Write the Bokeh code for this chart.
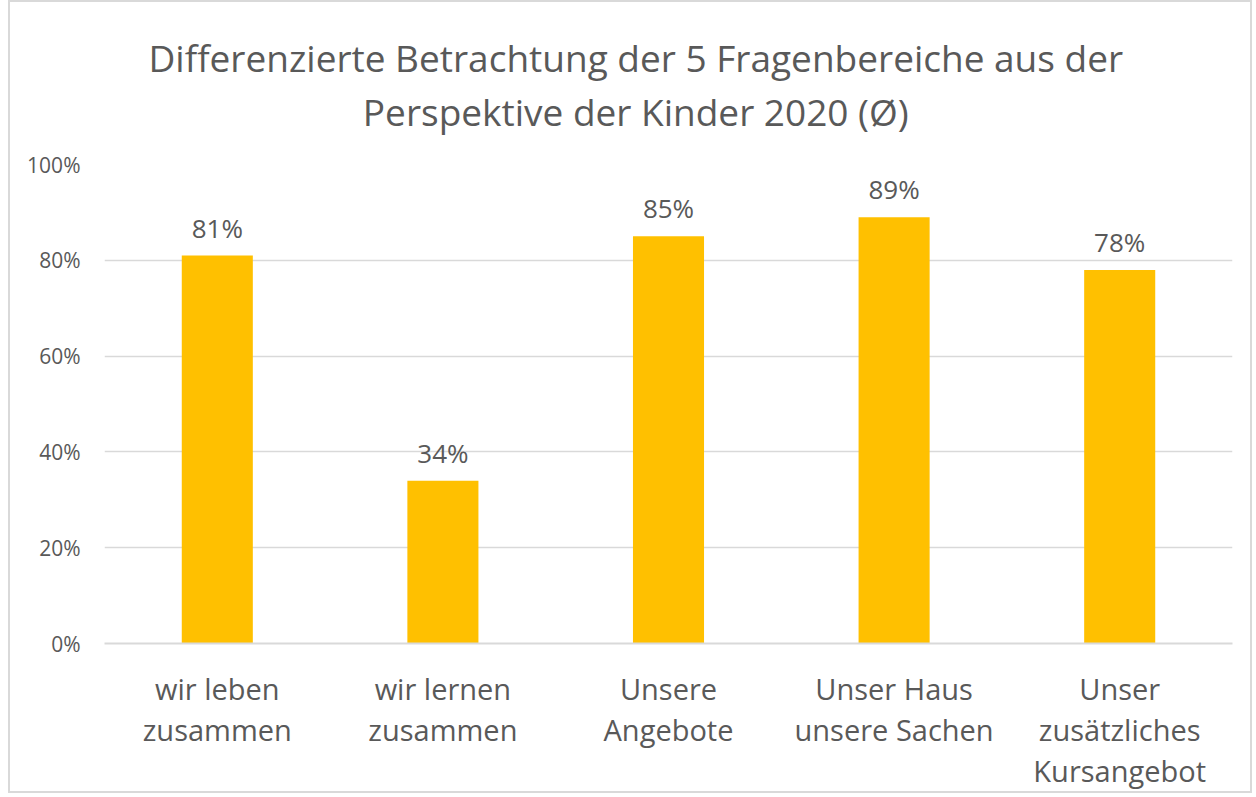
from bokeh.plotting import figure
from bokeh.layouts import row
from bokeh.models import ColumnDataSource, FactorRange, NumeralTickFormatter, Title, FixedTicker, LabelSet, Spacer
from bokeh.core.properties import value
from bokeh.embed import file_html
from bokeh.resources import INLINE

categories = ["wir leben\nzusammen", "wir lernen\nzusammen", "Unsere\nAngebote",
              "Unser Haus\nunsere Sachen", "Unser\nzusätzliches\nKursangebot"]
values = [0.81, 0.34, 0.85, 0.89, 0.78]
labels = ["81%", "34%", "85%", "89%", "78%"]
y_ticks = [0, 0.2, 0.4, 0.6, 0.8, 1.0]
title_lines = ["Differenzierte Betrachtung der 5 Fragenbereiche aus der",
               "Perspektive der Kinder 2020 (Ø)"]

FONT = "Open Sans"
GREY = "#595959"

src = ColumnDataSource(dict(cat=categories, val=values, lab=labels))

p = figure(x_range=FactorRange(*categories, range_padding=0), y_range=(0, 1.0),
           width=1244, height=793, output_backend="svg", toolbar_location=None,
           min_border_left=94, min_border_right=22, min_border_top=161, min_border_bottom=152)
p.styles = {"border": "2px solid #d9d9d9"}

p.vbar(x="cat", top="val", width=0.315, source=src, color="#FFC000", line_color=None)

lbl = LabelSet(x="cat", y="val", text="lab", source=src, text_align="center",
               text_baseline="alphabetic", y_offset=18, text_font_size="26px",
               text_color=GREY, text_font=value(FONT))
p.add_layout(lbl)

t = Title(text="\n".join(title_lines), align="left", offset=44, text_font=FONT,
          text_font_size="37px", text_color=GREY, text_font_style="normal",
          text_align="center", text_line_height=1.05, standoff=55)
p.add_layout(t, "above")

p.outline_line_color = None
p.xgrid.grid_line_color = None
p.ygrid.grid_line_color = "#D9D9D9"
p.ygrid.grid_line_width = 1.5
p.yaxis.ticker = FixedTicker(ticks=y_ticks)
p.yaxis.formatter = NumeralTickFormatter(format="0%")
p.yaxis.axis_line_color = None
p.yaxis.major_tick_line_color = None
p.yaxis.minor_tick_line_color = None
p.yaxis.major_label_text_font = FONT
p.yaxis.major_label_text_font_size = "21px"
p.yaxis.major_label_text_color = GREY
p.yaxis.major_label_standoff = 18

p.xaxis.axis_line_color = "#D9D9D9"
p.xaxis.axis_line_width = 2
p.xaxis.major_tick_line_color = None
p.xaxis.minor_tick_line_color = None
p.xaxis.major_label_text_font = FONT
p.xaxis.major_label_text_font_size = "29px"
p.xaxis.major_label_text_line_height = 1.06
p.xaxis.major_label_text_color = GREY
p.xaxis.major_label_standoff = 19

p.background_fill_color = "white"
p.border_fill_color = "white"

layout = row(Spacer(width=8, height=10), p)
open("out.html", "w").write(file_html(layout, INLINE))
